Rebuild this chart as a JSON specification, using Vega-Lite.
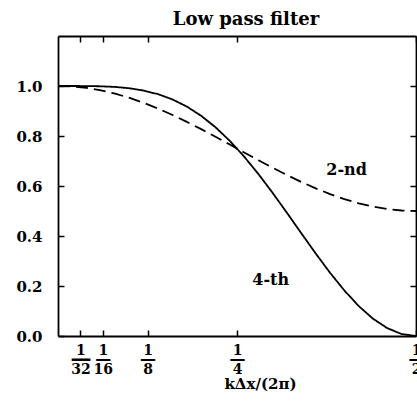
{
  "$schema": "https://vega.github.io/schema/vega-lite/v6.json",
  "width": 358,
  "height": 300,
  "autosize": "none",
  "padding": {"left": 58, "top": 36, "right": 1, "bottom": 65},
  "title": {"text": "Low pass filter", "font": "DejaVu Serif", "fontSize": 18, "fontWeight": "bold", "color": "black", "offset": 6, "dx": 9},
  "config": {
    "view": {"stroke": null},
    "axis": {"domainColor": "black", "domainWidth": 1.8, "tickColor": "black", "tickWidth": 1.5, "grid": false, "labelFont": "DejaVu Serif", "labelFontWeight": "bold", "labelColor": "black", "titleFont": "DejaVu Serif", "titleFontWeight": "bold", "titleColor": "black", "labelOverlap": false, "labelBound": false, "labelFlush": false}
  },
  "datasets": {
    "curves": [
      {"k": 0.00, "v": 1.0, "s": "2-nd"}, {"k": 0.02, "v": 0.998, "s": "2-nd"}, {"k": 0.04, "v": 0.9921, "s": "2-nd"}, {"k": 0.06, "v": 0.9824, "s": "2-nd"}, {"k": 0.08, "v": 0.9691, "s": "2-nd"}, {"k": 0.10, "v": 0.9523, "s": "2-nd"}, {"k": 0.12, "v": 0.9322, "s": "2-nd"}, {"k": 0.14, "v": 0.9094, "s": "2-nd"}, {"k": 0.16, "v": 0.884, "s": "2-nd"}, {"k": 0.18, "v": 0.8564, "s": "2-nd"}, {"k": 0.20, "v": 0.8273, "s": "2-nd"}, {"k": 0.22, "v": 0.7968, "s": "2-nd"}, {"k": 0.24, "v": 0.7657, "s": "2-nd"}, {"k": 0.26, "v": 0.7343, "s": "2-nd"}, {"k": 0.28, "v": 0.7032, "s": "2-nd"}, {"k": 0.30, "v": 0.6727, "s": "2-nd"}, {"k": 0.32, "v": 0.6436, "s": "2-nd"}, {"k": 0.34, "v": 0.616, "s": "2-nd"}, {"k": 0.36, "v": 0.5906, "s": "2-nd"}, {"k": 0.38, "v": 0.5678, "s": "2-nd"}, {"k": 0.40, "v": 0.5477, "s": "2-nd"}, {"k": 0.42, "v": 0.5309, "s": "2-nd"}, {"k": 0.44, "v": 0.5176, "s": "2-nd"}, {"k": 0.46, "v": 0.5079, "s": "2-nd"}, {"k": 0.48, "v": 0.502, "s": "2-nd"}, {"k": 0.50, "v": 0.5, "s": "2-nd"},
      {"k": 0.00, "v": 1.0, "s": "4-th"}, {"k": 0.02, "v": 1.0, "s": "4-th"}, {"k": 0.04, "v": 0.9998, "s": "4-th"}, {"k": 0.06, "v": 0.9988, "s": "4-th"}, {"k": 0.08, "v": 0.9962, "s": "4-th"}, {"k": 0.10, "v": 0.9909, "s": "4-th"}, {"k": 0.12, "v": 0.9816, "s": "4-th"}, {"k": 0.14, "v": 0.9671, "s": "4-th"}, {"k": 0.16, "v": 0.9461, "s": "4-th"}, {"k": 0.18, "v": 0.9176, "s": "4-th"}, {"k": 0.20, "v": 0.8806, "s": "4-th"}, {"k": 0.22, "v": 0.8349, "s": "4-th"}, {"k": 0.24, "v": 0.7804, "s": "4-th"}, {"k": 0.26, "v": 0.7176, "s": "4-th"}, {"k": 0.28, "v": 0.6475, "s": "4-th"}, {"k": 0.30, "v": 0.5716, "s": "4-th"}, {"k": 0.32, "v": 0.4918, "s": "4-th"}, {"k": 0.34, "v": 0.4103, "s": "4-th"}, {"k": 0.36, "v": 0.3297, "s": "4-th"}, {"k": 0.38, "v": 0.2527, "s": "4-th"}, {"k": 0.40, "v": 0.1819, "s": "4-th"}, {"k": 0.42, "v": 0.1199, "s": "4-th"}, {"k": 0.44, "v": 0.069, "s": "4-th"}, {"k": 0.46, "v": 0.0312, "s": "4-th"}, {"k": 0.48, "v": 0.0079, "s": "4-th"}, {"k": 0.50, "v": 0.0, "s": "4-th"}
    ],
    "labels": [
      {"k": 0.403, "v": 0.666, "t": "2-nd"},
      {"k": 0.297, "v": 0.224, "t": "4-th"}
    ]
  },
  "layer": [
    {
      "data": {"name": "curves"},
      "mark": {"type": "line", "color": "black", "strokeWidth": 1.8, "clip": true},
      "encoding": {
        "x": {"field": "k", "type": "quantitative", "scale": {"domain": [0, 0.5], "nice": false, "zero": false},
          "axis": {"orient": "bottom", "values": [0.03125, 0.0625, 0.125, 0.25, 0.5], "tickSize": -6, "labelPadding": 13, "labelFontSize": 14, "labelLineHeight": 19, "labelBaseline": "top",
            "labelExpr": "datum.value == 0.03125 ? ['1', '32'] : datum.value == 0.0625 ? ['1', '16'] : datum.value == 0.125 ? ['1', '8'] : datum.value == 0.25 ? ['1', '4'] : ['1', '2']",
            "title": "kΔx/(2π)", "titleFontSize": 15, "titleX": 202, "titleY": 52, "titleBaseline": "alphabetic", "titleAlign": "center"}},
        "y": {"field": "v", "type": "quantitative", "scale": {"domain": [0, 1.2], "nice": false},
          "axis": {"orient": "left", "values": [0, 0.2, 0.4, 0.6, 0.8, 1.0], "format": ".1f", "tickSize": -6, "labelPadding": 22, "labelFontSize": 15, "title": null}},
        "strokeDash": {"field": "s", "type": "nominal", "scale": {"domain": ["2-nd", "4-th"], "range": [[12, 6], [1, 0]]}, "legend": null}
      }
    },
    {
      "data": {"name": "labels"},
      "mark": {"type": "text", "font": "DejaVu Serif", "fontWeight": "bold", "fontSize": 16, "color": "black"},
      "encoding": {
        "x": {"field": "k", "type": "quantitative", "scale": {"domain": [0, 0.5], "nice": false, "zero": false},
          "axis": {"orient": "top", "values": [0.03125, 0.0625, 0.125, 0.25, 0.5], "tickSize": -6, "labels": false, "title": null}},
        "y": {"field": "v", "type": "quantitative", "scale": {"domain": [0, 1.2], "nice": false},
          "axis": {"orient": "right", "values": [0.2, 0.4, 0.6, 0.8, 1.0], "tickSize": -6, "labels": false, "title": null}},
        "text": {"field": "t"}
      }
    },
    {
      "data": {"name": "labels"},
      "mark": {"type": "text", "opacity": 0},
      "encoding": {
        "x": {"field": "k", "type": "quantitative", "scale": {"domain": [0, 0.5], "nice": false, "zero": false},
          "axis": {"orient": "bottom", "values": [0.03125, 0.0625, 0.125, 0.25, 0.5], "domain": false, "ticks": false, "labelPadding": 28, "labelBaseline": "alphabetic",
            "labelFontSize": {"condition": {"test": "datum.value < 0.04", "value": 21}, "value": 16},
            "labelExpr": "'—'", "title": null}},
        "y": {"field": "v", "type": "quantitative", "scale": {"domain": [0, 1.2], "nice": false}, "axis": null},
        "text": {"field": "t"}
      }
    }
  ],
  "resolve": {"axis": {"x": "independent", "y": "independent"}}
}
